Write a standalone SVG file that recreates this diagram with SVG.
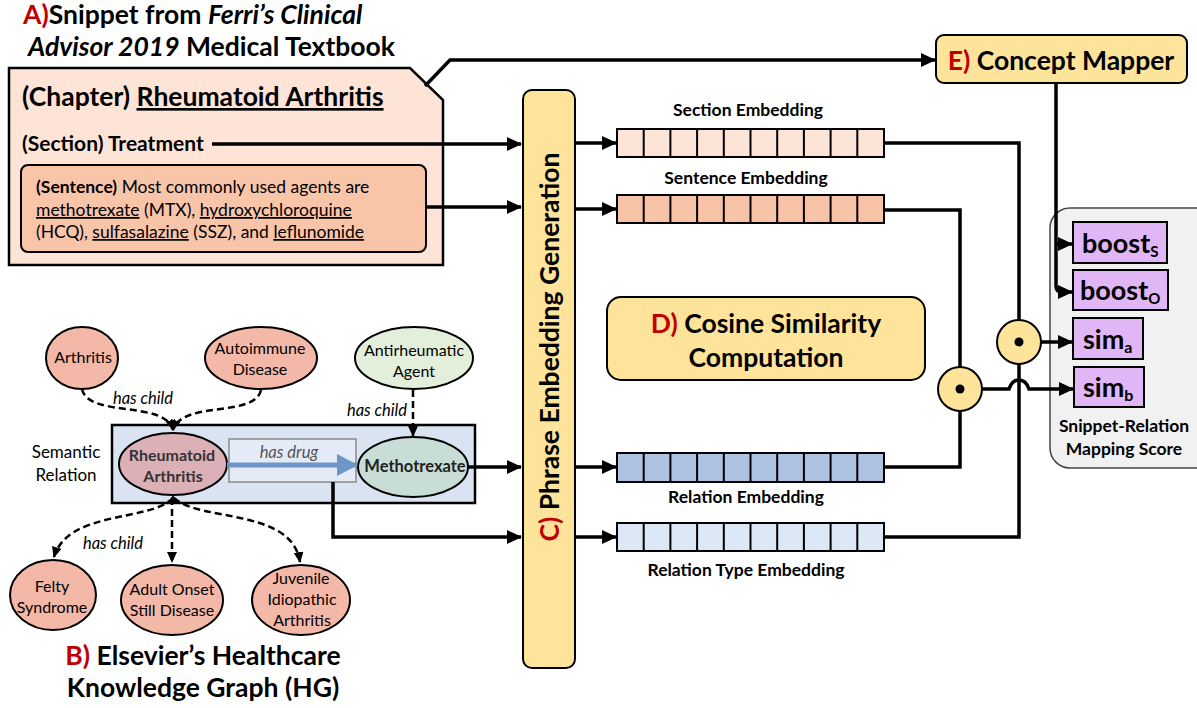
<svg xmlns="http://www.w3.org/2000/svg" width="1197" height="708" viewBox="0 0 1197 708">
<defs>
<style>
text{font-family:Lato,"Open Sans","Liberation Sans",sans-serif;fill:#000}
.b{font-weight:bold}
.red{fill:#c00000}
.it{font-style:italic}
.conn{fill:none;stroke:#000;stroke-width:3.5}
.dash{fill:none;stroke:#000;stroke-width:2.5;stroke-dasharray:7,4}
.yel{fill:#fee49a;stroke:#000;stroke-width:2}
.pink{fill:#f4b8a8;stroke:#000;stroke-width:2}
.pur{fill:#e0b6f7;stroke:#000;stroke-width:2}
.cell{fill:none;stroke:#000;stroke-width:2}
.u{text-decoration:underline}
.nd{font-size:16px}
.emb{font-size:17.5px;font-weight:bold}
</style>
<marker id="ah" markerUnits="userSpaceOnUse" markerWidth="16" markerHeight="14" refX="14" refY="7" orient="auto">
<path d="M0,0 L15,7 L0,14 Z" fill="#000"/>
</marker>
<marker id="sh" markerUnits="userSpaceOnUse" markerWidth="12" markerHeight="10" refX="10" refY="5" orient="auto">
<path d="M0,0 L11,5 L0,10 Z" fill="#000"/>
</marker>
<marker id="bh" markerUnits="userSpaceOnUse" markerWidth="22" markerHeight="22" refX="20" refY="11" orient="auto">
<path d="M0,0 L21,11 L0,22 Z" fill="#6f96c8"/>
</marker>
</defs>

<!-- A title -->
<g id="titleA">
<text x="23" y="24" font-size="26.5" class="b"><tspan class="red">A)</tspan>Snippet from <tspan class="it">Ferri’s Clinical</tspan></text>
<text x="28" y="56" font-size="26.5" class="b"><tspan class="it">Advisor 2019</tspan> Medical Textbook</text>
</g>

<!-- A document box -->
<g id="docA">
<path d="M9,68 H410 L443,100 V265 H9 Z" fill="#fde4d7" stroke="#000" stroke-width="2.5"/>
<text x="22" y="106" font-size="26.5" class="b">(Chapter) <tspan class="u">Rheumatoid Arthritis</tspan></text>
<text x="22" y="151" font-size="21" class="b">(Section) Treatment</text>
</g>
<g id="sentence">
<rect x="21" y="165" width="405" height="87" rx="7" fill="#f9c5a9" stroke="#000" stroke-width="2"/>
<text x="36" y="193" font-size="17.5"><tspan class="b">(Sentence)</tspan> Most commonly used agents are</text>
<text x="36" y="216" font-size="17.5"><tspan class="u">methotrexate</tspan> (MTX), <tspan class="u">hydroxychloroquine</tspan></text>
<text x="36" y="238" font-size="17.5">(HCQ), <tspan class="u">sulfasalazine</tspan> (SSZ), and <tspan class="u">leflunomide</tspan></text>
</g>

<!-- C phrase embedding -->
<g id="phraseC">
<rect x="523" y="90" width="52" height="578" rx="9" class="yel"/>
<text transform="translate(559,347) rotate(-90)" text-anchor="middle" font-size="26.5" class="b"><tspan class="red">C)</tspan> Phrase Embedding Generation</text>
</g>

<!-- Embedding bars -->
<g id="secEmb">
<text x="748" y="116" text-anchor="middle" class="emb">Section Embedding</text>
<rect x="617" y="129" width="267" height="28" fill="#fde4d8"/>
<path class="cell" d="M617,129 H884 V157 H617 Z M643.7,129 V157 M670.4,129 V157 M697.1,129 V157 M723.8,129 V157 M750.5,129 V157 M777.2,129 V157 M803.9,129 V157 M830.6,129 V157 M857.3,129 V157"/>
</g>
<g id="sentEmb">
<text x="746" y="184" text-anchor="middle" class="emb">Sentence Embedding</text>
<rect x="617" y="195" width="267" height="28" fill="#f8c4a8"/>
<path class="cell" d="M617,195 H884 V223 H617 Z M643.7,195 V223 M670.4,195 V223 M697.1,195 V223 M723.8,195 V223 M750.5,195 V223 M777.2,195 V223 M803.9,195 V223 M830.6,195 V223 M857.3,195 V223"/>
</g>
<g id="relEmb">
<rect x="617" y="453" width="267" height="29" fill="#aec3e4"/>
<path class="cell" d="M617,453 H884 V482 H617 Z M643.7,453 V482 M670.4,453 V482 M697.1,453 V482 M723.8,453 V482 M750.5,453 V482 M777.2,453 V482 M803.9,453 V482 M830.6,453 V482 M857.3,453 V482"/>
<text x="746" y="503" text-anchor="middle" class="emb">Relation Embedding</text>
</g>
<g id="relTypeEmb">
<rect x="617" y="523" width="267" height="28" fill="#dce8f6"/>
<path class="cell" d="M617,523 H884 V551 H617 Z M643.7,523 V551 M670.4,523 V551 M697.1,523 V551 M723.8,523 V551 M750.5,523 V551 M777.2,523 V551 M803.9,523 V551 M830.6,523 V551 M857.3,523 V551"/>
<text x="746" y="576" text-anchor="middle" class="emb">Relation Type Embedding</text>
</g>

<!-- D cosine -->
<g id="cosineD">
<rect x="607" y="297" width="318" height="83" rx="14" class="yel"/>
<text x="766" y="333" text-anchor="middle" font-size="26.5" class="b"><tspan class="red">D)</tspan> Cosine Similarity</text>
<text x="766" y="367" text-anchor="middle" font-size="26.5" class="b">Computation</text>
</g>

<!-- E concept mapper -->
<g id="conceptE">
<rect x="936" y="35" width="251" height="48" rx="8" class="yel"/>
<text x="1061" y="70" text-anchor="middle" font-size="26.5" class="b"><tspan class="red">E)</tspan> Concept Mapper</text>
</g>

<!-- Score panel -->
<g id="scorePanel">
<rect x="1050" y="208" width="170" height="260" rx="20" fill="#f1f1f1" stroke="#444" stroke-width="1.5"/>
<text x="1124" y="432" text-anchor="middle" font-size="17.5" class="b">Snippet-Relation</text>
<text x="1124" y="455" text-anchor="middle" font-size="17.5" class="b">Mapping Score</text>
</g>
<g id="boostS">
<rect x="1073" y="222" width="94" height="41" class="pur"/>
<text x="1082" y="253" font-size="27" class="b">boost<tspan font-size="15" dy="4">S</tspan></text>
</g>
<g id="boostO">
<rect x="1073" y="270" width="95" height="40" class="pur"/>
<text x="1080" y="300" font-size="27" class="b">boost<tspan font-size="15" dy="4">O</tspan></text>
</g>
<g id="simA">
<rect x="1073" y="318" width="70" height="41" class="pur"/>
<text x="1083" y="349" font-size="27" class="b">sim<tspan font-size="16" dy="4">a</tspan></text>
</g>
<g id="simB">
<rect x="1074" y="367" width="70" height="40" class="pur"/>
<text x="1083" y="397" font-size="27" class="b">sim<tspan font-size="16" dy="4">b</tspan></text>
</g>

<!-- B knowledge graph -->
<g id="semBox">
<rect x="112" y="425" width="363" height="78" fill="#dae3f2" stroke="#000" stroke-width="2.5"/>
<text x="66" y="458" text-anchor="middle" font-size="17">Semantic</text>
<text x="66" y="481" text-anchor="middle" font-size="17">Relation</text>
</g>
<g id="hasDrug">
<rect x="229" y="439" width="127" height="43" fill="#e5ebf6" stroke="#8a8a8a" stroke-width="1.5"/>
<text x="289" y="458" text-anchor="middle" font-size="16.5" class="it" style="fill:#555">has drug</text>
</g>
<g id="nArthritis">
<ellipse cx="82" cy="358" rx="36" ry="31" class="pink"/>
<text x="83" y="363" text-anchor="middle" class="nd">Arthritis</text>
</g>
<g id="nAutoimmune">
<ellipse cx="261" cy="358" rx="56" ry="31" class="pink"/>
<text x="260" y="354" text-anchor="middle" class="nd">Autoimmune</text>
<text x="260" y="375" text-anchor="middle" class="nd">Disease</text>
</g>
<g id="nAntirheumatic">
<ellipse cx="414" cy="358" rx="59" ry="31" fill="#e3efda" stroke="#000" stroke-width="2"/>
<text x="414" y="356" text-anchor="middle" class="nd">Antirheumatic</text>
<text x="414" y="377" text-anchor="middle" class="nd">Agent</text>
</g>
<g id="nRA">
<ellipse cx="173" cy="464" rx="54" ry="31" fill="#dbb0b7" stroke="#000" stroke-width="2"/>
<text x="172" y="461" text-anchor="middle" font-size="16" class="b" style="fill:#333">Rheumatoid</text>
<text x="173" y="482" text-anchor="middle" font-size="16" class="b" style="fill:#333">Arthritis</text>
</g>
<g id="nMTX">
<ellipse cx="413" cy="467" rx="55" ry="30" fill="#c8ddd5" stroke="#000" stroke-width="2"/>
<text x="415" y="472" text-anchor="middle" font-size="16.5" class="b" style="fill:#222">Methotrexate</text>
</g>
<g id="nFelty">
<ellipse cx="53" cy="595" rx="43" ry="35" class="pink"/>
<text x="52" y="592" text-anchor="middle" class="nd">Felty</text>
<text x="52" y="613" text-anchor="middle" class="nd">Syndrome</text>
</g>
<g id="nAdult">
<ellipse cx="172" cy="600" rx="51" ry="35" class="pink"/>
<text x="172" y="595" text-anchor="middle" class="nd">Adult Onset</text>
<text x="172" y="616" text-anchor="middle" class="nd">Still Disease</text>
</g>
<g id="nJuvenile">
<ellipse cx="301" cy="600" rx="49" ry="35" class="pink"/>
<text x="301" y="584" text-anchor="middle" class="nd">Juvenile</text>
<text x="302" y="605" text-anchor="middle" class="nd">Idiopathic</text>
<text x="302" y="626" text-anchor="middle" class="nd">Arthritis</text>
</g>
<g id="titleB">
<text x="203" y="665" text-anchor="middle" font-size="26.5" class="b"><tspan class="red">B)</tspan> Elsevier’s Healthcare</text>
<text x="203" y="697" text-anchor="middle" font-size="26.5" class="b">Knowledge Graph (HG)</text>
</g>

<!-- connectors -->
<g id="connectors">
<path class="dash" d="M82,389 C88,418 165,400 173,430" marker-end="url(#sh)"/>
<path class="dash" d="M261,390 C255,418 182,400 173,430" marker-end="url(#sh)"/>
<text x="143" y="404" text-anchor="middle" font-size="16.5" class="it">has child</text>
<path class="dash" d="M413,390 V436" marker-end="url(#sh)"/>
<text x="377" y="416" text-anchor="middle" font-size="16.5" class="it">has child</text>
<path class="dash" d="M173,498 C150,522 68,510 54,557" marker-end="url(#sh)"/>
<path class="dash" d="M172,498 V562" marker-end="url(#sh)"/>
<path class="dash" d="M174,498 C200,522 292,508 300,562" marker-end="url(#sh)"/>
<path d="M168,503 L173,495 L178,503 Z" fill="#000"/>
<text x="113" y="549" text-anchor="middle" font-size="16.5" class="it">has child</text>
<path d="M227,465 H357" fill="none" stroke="#6f96c8" stroke-width="5" marker-end="url(#bh)"/>

<path class="conn" d="M468,467 H521" marker-end="url(#ah)"/>
<path class="conn" d="M333,482 V537 H521" marker-end="url(#ah)"/>
<path class="conn" d="M212,144 H521" marker-end="url(#ah)"/>
<path class="conn" d="M426,207 H521" marker-end="url(#ah)"/>
<path class="conn" d="M425,86 L450,60 H935" marker-end="url(#ah)"/>

<path class="conn" d="M576,143 H616" marker-end="url(#ah)"/>
<path class="conn" d="M576,209 H616" marker-end="url(#ah)"/>
<path class="conn" d="M576,467 H616" marker-end="url(#ah)"/>
<path class="conn" d="M576,537 H616" marker-end="url(#ah)"/>

<path class="conn" d="M884,143 H1019 V537 H884"/>
<path class="conn" d="M884,210 H960 V467 H884"/>

<path class="conn" d="M1056,83 V286 Q1056,292 1062,292 H1072" marker-end="url(#ah)"/>
<path class="conn" d="M1056,244 H1072" marker-end="url(#ah)"/>
<path class="conn" d="M1041,342 H1072" marker-end="url(#ah)"/>
<path class="conn" d="M982,389 H1009 Q1012,380 1019,380 Q1026,380 1029,389 H1073" marker-end="url(#ah)"/>
</g>

<g id="dotTop">
<circle cx="1019" cy="342" r="22" class="yel" stroke-width="2.5"/>
<circle cx="1019" cy="342" r="4.5" fill="#000"/>
</g>
<g id="dotBottom">
<circle cx="960" cy="389" r="22" class="yel" stroke-width="2.5"/>
<circle cx="960" cy="389" r="4.5" fill="#000"/>
</g>
</svg>
